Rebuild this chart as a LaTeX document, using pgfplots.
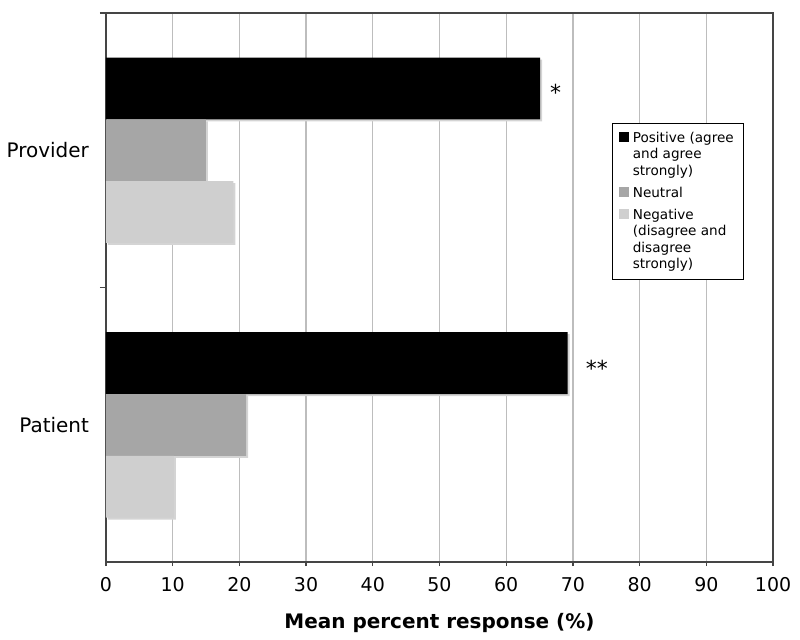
\documentclass[border=0pt]{standalone}
\usepackage{fontspec}
\setmainfont{DejaVu Sans}
\usepackage{pgfplots}
\pgfplotsset{compat=1.18}
\definecolor{neutralgray}{HTML}{A6A6A6}
\definecolor{neggray}{HTML}{CFCFCF}
\definecolor{shadowgray}{HTML}{D4D4D4}
\definecolor{gridgray}{HTML}{BDBDBD}
\definecolor{axisgray}{HTML}{454545}
\begin{document}
\begin{tikzpicture}
\path (-52.5pt,-38pt) rectangle (347.5pt,281.5pt);
\begin{axis}[
  scale only axis, width=334pt, height=275pt,
  xbar, bar width=0.225,
  xmin=0, xmax=100, ymin=-0.5, ymax=1.5,
  xtick={0,10,...,100},
  ytick={0,1}, yticklabels={Patient,Provider},
  ytick style={draw=none},
  extra y ticks={0.5,1.5}, extra y tick labels={},
  extra y tick style={major tick length=3pt, ytick style={draw=axisgray,line width=0.6pt}},
  xtick pos=bottom, ytick pos=left, tick align=outside,
  major tick length=2pt,
  xtick style={draw=axisgray,line width=0.6pt},
  xmajorgrids, major grid style={gridgray, line width=0.6pt},
  axis line style={axisgray, line width=0.8pt},
  /pgf/number format/assume math mode=true,
  xticklabel style={font=\fontsize{9.5}{11}\selectfont, yshift=-2pt},
  yticklabel style={font=\fontsize{10}{12}\selectfont, xshift=-3pt},
  xlabel={Mean percent response (\%)},
  xlabel style={font=\fontsize{10}{12}\selectfont\bfseries, yshift=-4pt},
  legend style={at={(0.759,0.8)}, anchor=north west, draw=black, line width=0.6pt,
    font=\fontsize{6.8}{8.25}\selectfont, cells={align=left, anchor=north west},
    inner xsep=3pt, inner ysep=2pt, row sep=0pt},
  legend image code/.code={\fill[#1] (0pt,-7.3pt) rectangle (5pt,-2.3pt);},
]
% shadows
\addplot[forget plot, fill=shadowgray, draw=none, bar shift=0.225, transform canvas={xshift=1pt,yshift=-1pt}] coordinates {(65.1,1) (69.2,0)};
\addplot[forget plot, fill=shadowgray, draw=none, bar shift=0, transform canvas={xshift=1pt,yshift=-1pt}] coordinates {(15.0,1) (21.0,0)};
\addplot[forget plot, fill=shadowgray, draw=none, bar shift=-0.225, transform canvas={xshift=1pt,yshift=-1pt}] coordinates {(19.1,1) (10.2,0)};
% bars
\addplot[fill=black, draw=none, bar shift=0.225] coordinates {(65.1,1) (69.2,0)};
\addlegendentry{Positive (agree\\and agree\\strongly)}
\addplot[fill=neutralgray, draw=none, bar shift=0] coordinates {(15.0,1) (21.0,0)};
\addlegendentry{Neutral}
\addplot[fill=neggray, draw=none, bar shift=-0.225] coordinates {(19.1,1) (10.2,0)};
\addlegendentry{Negative\\(disagree and\\disagree\\strongly)}
\node[font=\fontsize{11}{12}\selectfont, yshift=-2pt] at (axis cs:67.4,1.225) {*};
\node[font=\fontsize{11}{12}\selectfont, yshift=-2pt] at (axis cs:73.6,0.22) {**};
\end{axis}
\end{tikzpicture}
\end{document}
